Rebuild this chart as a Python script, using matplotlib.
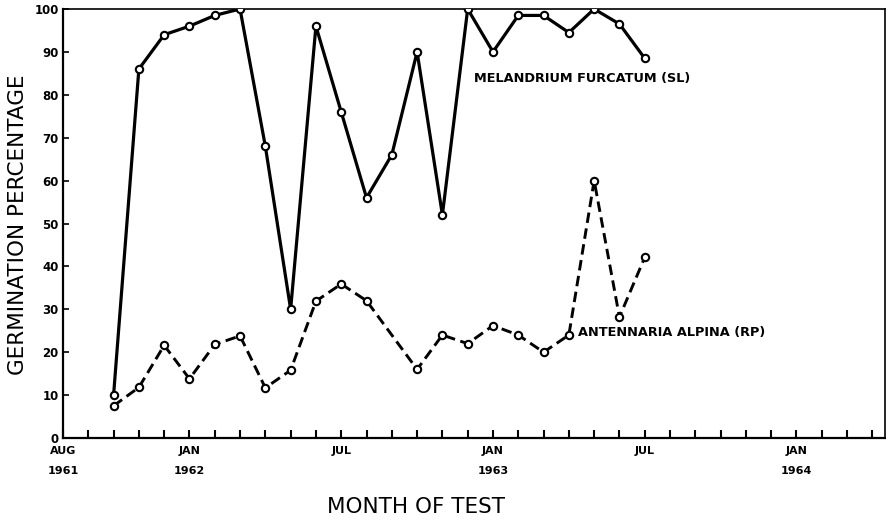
import numpy as np
import matplotlib
matplotlib.use("Agg")
import matplotlib.pyplot as plt

# months counted from AUG 1961 (= 0)
mel_month = [2, 3, 4, 5, 6, 7, 8, 9, 10, 11, 12, 13, 14, 15, 16, 17, 18, 19, 20, 21, 22, 23]
mel_pct = [10, 86, 94, 96, 98.5, 100, 68, 30, 96, 76, 56, 66, 90, 52, 100, 90, 98.5, 98.5, 94.5, 100, 96.5, 88.5]

ant_month = [2, 3, 4, 5, 6, 7, 8, 9, 10, 11, 12, 14, 15, 16, 17, 18, 19, 20, 21, 22, 23]
ant_pct = [7.5, 11.8, 21.6, 13.8, 21.8, 23.8, 11.7, 15.8, 31.9, 35.9, 32, 16, 24, 22, 26.2, 24, 20, 24, 60, 28.2, 42.1]

tick_months = [0, 5, 11, 17, 23, 29]
tick_labels = ["AUG\n1961", "JAN\n1962", "JUL", "JAN\n1963", "JUL", "JAN\n1964"]
yticks = np.arange(0, 101, 10)

plt.rcParams['font.family'] = 'DejaVu Sans'

fig = plt.figure(figsize=(8.86, 5.23), dpi=100)
ax = fig.add_axes([0.0711, 0.1625, 0.9278, 0.8203])

ax.plot(mel_month, mel_pct, color="black", lw=2.3, marker="o", ms=5.3,
        mfc="white", mec="black", mew=1.5, zorder=3)
ax.plot(ant_month, ant_pct, color="black", lw=2.1, ls=(0, (3.6, 1.9)),
        marker="o", ms=5.3, mfc="white", mec="black", mew=1.5, zorder=3)

ax.text(16.26, 83.9, "MELANDRIUM FURCATUM (SL)", fontsize=9.3,
        fontweight="bold", va="center", ha="left")
ax.text(20.36, 24.5, "ANTENNARIA ALPINA (RP)", fontsize=9.3,
        fontweight="bold", va="center", ha="left")

ax.set_xlim(0, 32.5)
ax.set_ylim(0, 100)

ax.set_xticks(tick_months)
ax.set_xticklabels(tick_labels, fontsize=8, fontweight="bold", linespacing=2.2)
ax.set_xticks(np.arange(0, 33), minor=True)
ax.set_yticks(yticks)
ax.set_yticklabels([str(v) for v in yticks], fontsize=8.5, fontweight="bold")

ax.tick_params(axis="x", which="both", direction="in", length=6, width=1.5,
               top=False, pad=6)
ax.tick_params(axis="y", direction="in", length=4, width=1.2, right=False, pad=3)

for side in ["left", "bottom"]:
    ax.spines[side].set_linewidth(1.6)
for side in ["top", "right"]:
    ax.spines[side].set_linewidth(1.2)

ax.set_xlabel("MONTH OF TEST", fontsize=15.5, va="center", ha="center")
ax.xaxis.set_label_coords(0.43, -0.161)
ax.set_ylabel("GERMINATION PERCENTAGE", fontsize=15.5, va="center", ha="center")
ax.yaxis.set_label_coords(-0.0547, 0.4965)

fig.savefig("out.png", dpi=100)
